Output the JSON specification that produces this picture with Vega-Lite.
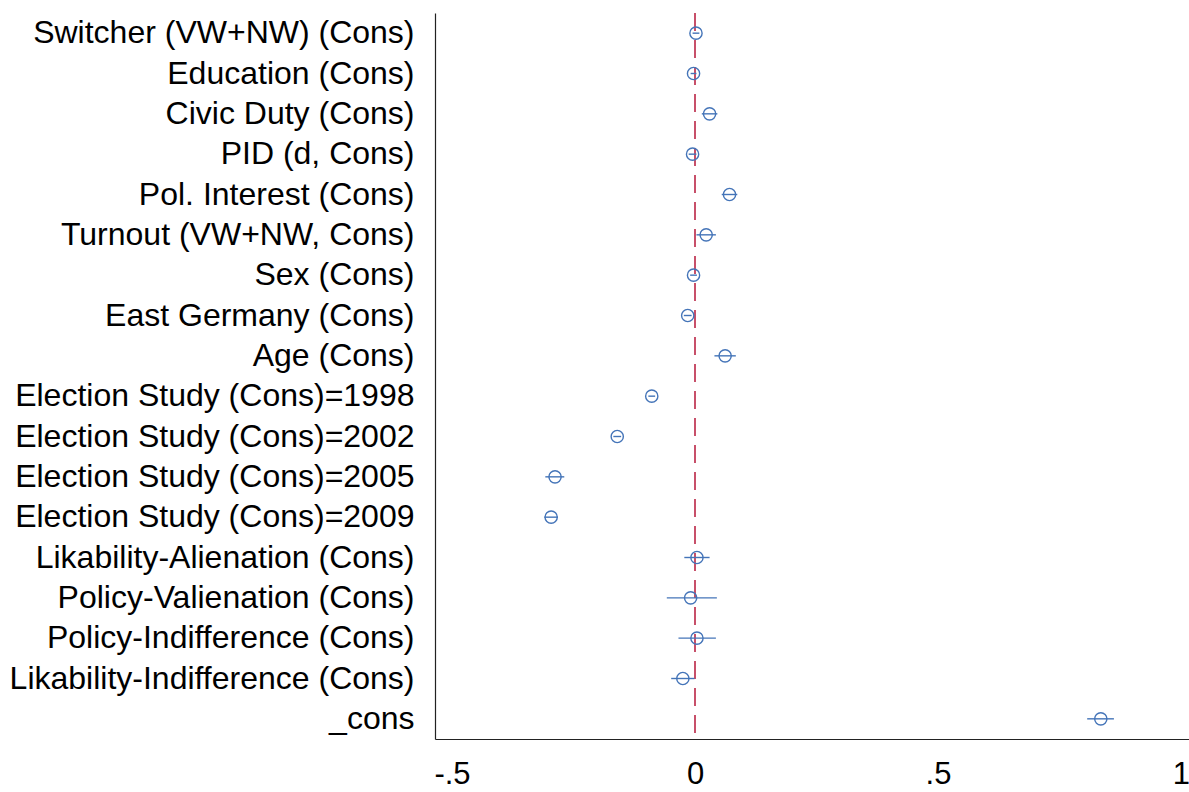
{
  "$schema": "https://vega.github.io/schema/vega-lite/v6.json",
  "width": 754,
  "height": 726,
  "autosize": {"type": "none"},
  "padding": {"left": 435, "top": 13, "right": 0, "bottom": 53},
  "background": "white",
  "config": {"view": {"stroke": null}, "font": "Liberation Sans"},
  "data": {"values": [
    {"term": "Switcher (VW+NW) (Cons)", "b": 0.002, "lo": -0.005, "hi": 0.009},
    {"term": "Education (Cons)", "b": -0.003, "lo": -0.009, "hi": 0.003},
    {"term": "Civic Duty (Cons)", "b": 0.030, "lo": 0.014, "hi": 0.046},
    {"term": "PID (d, Cons)", "b": -0.005, "lo": -0.013, "hi": 0.003},
    {"term": "Pol. Interest (Cons)", "b": 0.071, "lo": 0.055, "hi": 0.087},
    {"term": "Turnout (VW+NW, Cons)", "b": 0.023, "lo": 0.003, "hi": 0.043},
    {"term": "Sex (Cons)", "b": -0.003, "lo": -0.010, "hi": 0.004},
    {"term": "East Germany (Cons)", "b": -0.015, "lo": -0.023, "hi": -0.007},
    {"term": "Age (Cons)", "b": 0.062, "lo": 0.040, "hi": 0.084},
    {"term": "Election Study (Cons)=1998", "b": -0.089, "lo": -0.096, "hi": -0.082},
    {"term": "Election Study (Cons)=2002", "b": -0.160, "lo": -0.168, "hi": -0.152},
    {"term": "Election Study (Cons)=2005", "b": -0.288, "lo": -0.308, "hi": -0.269},
    {"term": "Election Study (Cons)=2009", "b": -0.296, "lo": -0.310, "hi": -0.282},
    {"term": "Likability-Alienation (Cons)", "b": 0.004, "lo": -0.022, "hi": 0.030},
    {"term": "Policy-Valienation (Cons)", "b": -0.009, "lo": -0.058, "hi": 0.045},
    {"term": "Policy-Indifference (Cons)", "b": 0.004, "lo": -0.034, "hi": 0.043},
    {"term": "Likability-Indifference (Cons)", "b": -0.025, "lo": -0.049, "hi": -0.001},
    {"term": "_cons", "b": 0.835, "lo": 0.807, "hi": 0.862}
  ]},
  "encoding": {
    "y": {
      "field": "term", "type": "nominal", "sort": null, "title": null,
      "axis": {
        "ticks": false, "labelPadding": 21, "labelFontSize": 32, "labelColor": "#000000",
        "labelLimit": 0, "domainColor": "#222222", "domainWidth": 1.2, "grid": false
      }
    }
  },
  "layer": [
    {
      "mark": {"type": "rule", "color": "#c8506a", "strokeWidth": 1.6, "strokeDash": [18, 9]},
      "encoding": {"x": {"datum": 0, "type": "quantitative"}, "y": null}
    },
    {
      "mark": {"type": "rule", "color": "#4474b8", "strokeWidth": 1.4},
      "encoding": {
        "x": {
          "field": "lo", "type": "quantitative", "title": null,
          "scale": {"domain": [-0.535, 1.0165], "nice": false, "zero": false},
          "axis": {
            "values": [-0.5, 0, 0.5, 1], "ticks": false, "labelPadding": 20,
            "labelFontSize": 31, "labelColor": "#000000", "grid": false,
            "labelOverlap": false, "labelFlush": false, "labelBound": false,
            "domainColor": "#222222", "domainWidth": 1.2,
            "labelExpr": "datum.value == -0.5 ? '-.5' : datum.value == 0.5 ? '.5' : datum.value == 0 ? '0' : '1'"
          }
        },
        "x2": {"field": "hi"}
      }
    },
    {
      "mark": {"type": "point", "shape": "circle", "filled": false, "color": "#4474b8", "size": 150, "strokeWidth": 1.4, "opacity": 1},
      "encoding": {"x": {"field": "b", "type": "quantitative"}}
    }
  ]
}
